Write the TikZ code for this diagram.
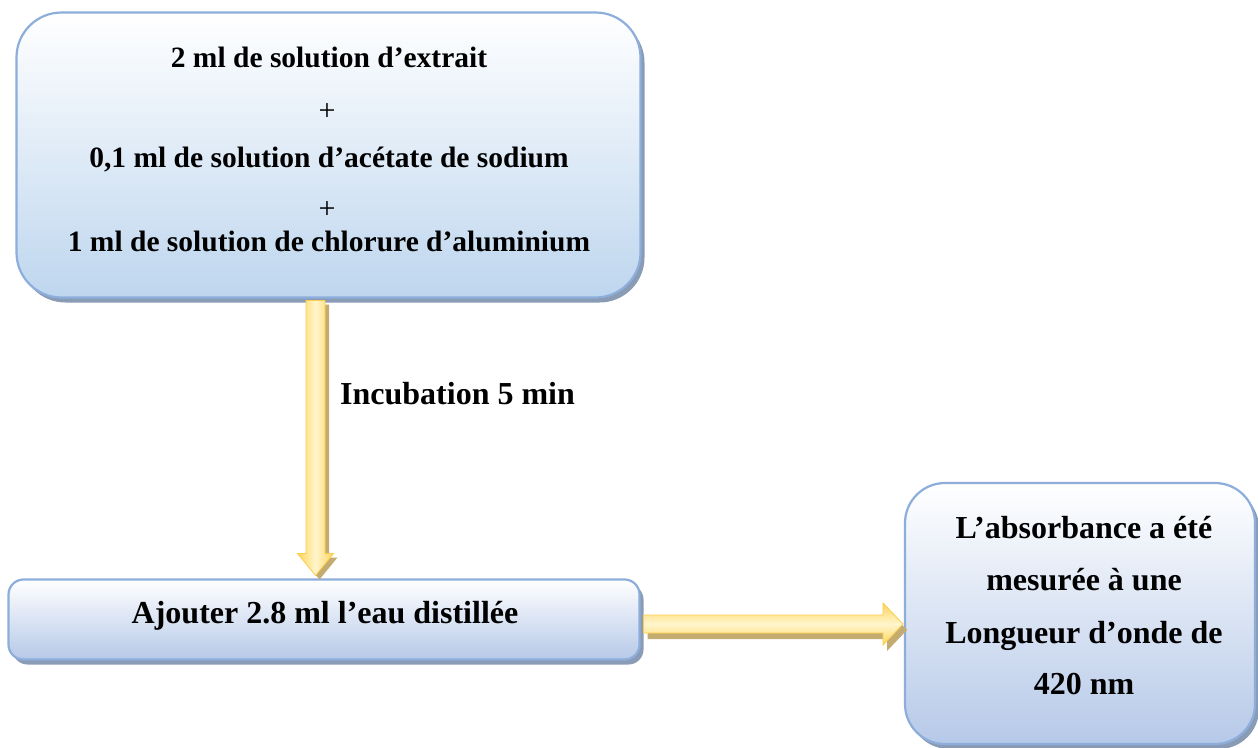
\documentclass[tikz,border=0pt]{standalone}
\usepackage{fontspec}
\setmainfont{Liberation Serif}
\usetikzlibrary{calc,shadows}
\definecolor{bdr}{RGB}{141,174,219}
\definecolor{bfill}{RGB}{182,201,232}
\definecolor{bfilla}{RGB}{190,214,238}
\definecolor{shd}{RGB}{138,155,182}
\definecolor{ayel}{RGB}{255,212,88}
\definecolor{alight}{RGB}{255,245,205}
\definecolor{aline}{RGB}{250,205,80}
\definecolor{ashd}{RGB}{196,172,112}
\begin{document}
\begin{tikzpicture}[x=1pt,y=-1pt,
  box/.style={draw=bdr,line width=2.2pt,top color=white,bottom color=bfill,
    rounded corners=#1,inner sep=0pt,outer sep=0pt,
    drop shadow={shadow xshift=4pt,shadow yshift=-5pt,fill=shd,opacity=1}},
  txt/.style={font=\bfseries\fontsize{32}{36}\selectfont,anchor=base,inner sep=0pt},
  txta/.style={font=\bfseries\fontsize{29.5}{34}\selectfont,anchor=base,inner sep=0pt},
  plus/.style={font=\fontsize{30}{34}\selectfont,anchor=base,inner sep=0pt},
  vshade/.style={left color=ayel,right color=ayel,middle color=alight,draw=aline,line width=0.8pt,
    drop shadow={shadow xshift=4pt,shadow yshift=-4pt,fill=ashd,opacity=1}},
  hshade/.style={top color=ayel,bottom color=ayel,middle color=alight,draw=aline,line width=0.8pt,
    drop shadow={shadow xshift=4pt,shadow yshift=-6pt,fill=ashd,opacity=1}}]
\useasboundingbox (0,0) rectangle (1258,747);
\fill[white] (0,0) rectangle (1258,747);

% boxes
\node[box=45pt,bottom color=bfilla,minimum width=624pt,minimum height=285pt] (b1) at (328.5,155) {};
\node[box=15pt,minimum width=631pt,minimum height=80pt] (b2) at (324,619.5) {};
\node[box=40pt,minimum width=350pt,minimum height=261pt] (b3) at (1080,613.5) {};

% texts box 1
\node[txta] (t1) at (329,67) {2 ml de solution d’extrait};
\node[plus] (p1) at (327,120) {+};
\node[txta] (t2) at (329,167) {0,1 ml de solution d’acétate de sodium};
\node[plus] (p2) at (327,218) {+};
\node[txta] (t3) at (329,251) {1 ml de solution de chlorure d’aluminium};

% box 2 text
\node[txt] (t4) at (325,623) {Ajouter 2.8 ml l’eau distillée};

% box 3 texts
\node[txt] (t5) at (1084,538) {L’absorbance a été};
\node[txt] (t6) at (1084,590) {mesurée à une};
\node[txt] (t7) at (1084,643) {Longueur d’onde de};
\node[txt] (t8) at (1084,694) {420 nm};

% vertical arrow
\coordinate (vs) at ($(b1.south)+(-13,3)$);
\coordinate (ve) at ($(b2.north)+(-10,-4)$);
\coordinate (vt) at (vs |- ve);
\path[vshade] ($(vs)+(-9.5,0)$) -- ($(vt)+(-9.5,-22)$) -- ($(vt)+(-18,-22)$) -- (vt)
  -- ($(vt)+(18,-22)$) -- ($(vt)+(9.5,-22)$) -- ($(vs)+(9.5,0)$) -- cycle;
\node[txt,anchor=base west] (lab) at (340,404) {Incubation 5 min};

% horizontal arrow
\coordinate (hs) at ($(b2.east)+(4,4.5)$);
\coordinate (ht) at ($(hs -| b3.west)+(-2,0)$);
\path[hshade] ($(hs)+(0,-9)$) -- ($(ht)+(-20,-9)$) -- ($(ht)+(-20,-21)$) -- (ht)
  -- ($(ht)+(-20,21)$) -- ($(ht)+(-20,9)$) -- ($(hs)+(0,9)$) -- cycle;
\end{tikzpicture}
\end{document}
